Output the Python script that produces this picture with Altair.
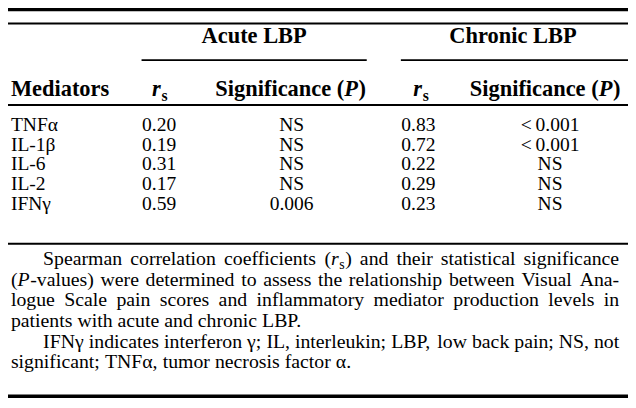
import altair as alt
import pandas as pd

# ---------------- table values ----------------
mediators = ["TNFα", "IL-1β", "IL-6", "IL-2", "IFNγ"]
acute_rs = [0.20, 0.19, 0.31, 0.17, 0.59]
acute_sig = ["NS", "NS", "NS", "NS", "0.006"]
chronic_rs = [0.83, 0.72, 0.22, 0.29, 0.23]
chronic_sig = ["<\u20090.001", "<\u20090.001", "NS", "NS", "NS"]
group_headers = ["Acute LBP", "Chronic LBP"]
stub_header = "Mediators"
rs_header = [("r", "i"), ("s", "sub")]
sig_header = [("Significance (", "n"), ("P", "i"), (")", "n")]
footnote = [
    [("Spearman correlation coefficients (", "n"), ("r", "i"), ("s", "sub"),
     (") and their statistical significance", "n")],
    [("(", "n"), ("P", "i"),
     ("-values) were determined to assess the relationship between Visual Ana-", "n")],
    [("logue Scale pain scores and inflammatory mediator production levels in", "n")],
    [("patients with acute and chronic LBP.", "n")],
    [("IFNγ indicates interferon γ; IL, interleukin; LBP, low back pain; NS, not", "n")],
    [("significant; TNFα, tumor necrosis factor α.", "n")],
]
footnote_justify = [True, True, True, False, True, False]
footnote_indent = [True, False, False, False, True, False]

# ---------------- layout (reference pixel frame 636 x 408) ----------------
W_REF, H_REF = 636, 408
PLOT_W, PLOT_H = 620, 392
K = PLOT_W / W_REF  # font scale so that text keeps its share of the width
FONT = "Liberation Serif, Times New Roman, Times, DejaVu Serif, serif"

REG = {" ": .25, "!": .333, "(": .333, ")": .333, ",": .25, "-": .333, ".": .25,
       ";": .278, ":": .278, "<": .564, "α": .53, "β": .5, "γ": .45}
for d in "0123456789":
    REG[d] = .5
REG.update(dict(zip("ABCDEFGHIJKLMNOPQRSTUVWXYZ",
                    [.722, .667, .667, .722, .611, .556, .722, .722, .333, .389, .722, .611, .889,
                     .722, .722, .556, .722, .667, .556, .611, .722, .722, .944, .722, .722, .611])))
REG.update(dict(zip("abcdefghijklmnopqrstuvwxyz",
                    [.444, .5, .444, .5, .444, .333, .5, .5, .278, .278, .5, .278, .778,
                     .5, .5, .5, .5, .333, .389, .278, .5, .5, .722, .5, .5, .444])))
BOLD = dict(REG)
BOLD.update({"A": .722, "B": .667, "C": .722, "L": .667, "M": .944, "P": .611, "S": .556,
             "a": .5, "b": .556, "c": .444, "d": .556, "e": .444, "f": .333, "g": .5,
             "h": .556, "i": .278, "n": .556, "o": .5, "r": .444, "s": .389, "t": .333,
             "u": .556, "l": .278, "m": .833})
ITAL = {"P": .611, "r": .389, "s": .389}
BITAL = {"P": .611, "r": .389, "s": .389}


def width(text, fs, bold, italic):
    tot = 0.0
    for ch in text:
        if italic:
            tab = BITAL if bold else ITAL
            tot += tab.get(ch, (BOLD if bold else REG).get(ch, .5))
        else:
            tot += (BOLD if bold else REG).get(ch, .5)
    return tot * fs


def run_w(text, st, fs, bold):
    if st == "sub":
        return width(text, fs * 0.7, bold, False) + 0.6
    return width(text, fs, bold, st == "i") + (0.6 if st == "i" else 0)


def place(runs, x, y, fs, bold, rows):
    for text, st in runs:
        f = fs * 0.7 if st == "sub" else fs
        yy = y + 0.22 * fs if st == "sub" else y
        rows.append(dict(x=x, y=yy, text=text, fs=f * K,
                         weight="bold" if bold else "normal",
                         style="italic" if st == "i" else "normal", align="left"))
        x += run_w(text, st, fs, bold)
    return x


def runs_width(runs, fs, bold):
    return sum(run_w(t, s, fs, bold) for t, s in runs)


rows = []

# group headers
HFS = 23
for label, cx in zip(group_headers, [252.5, 518]):
    rows.append(dict(x=cx, y=36.5, text=label, fs=HFS * K, weight="bold",
                     style="normal", align="center"))

# column headers
HY = 92
rows.append(dict(x=3, y=HY, text=stub_header, fs=HFS * K, weight="bold",
                 style="normal", align="left"))
for cx in [156, 424]:
    w = runs_width(rs_header, HFS, True)
    place(rs_header, cx - w / 2, HY, HFS, True, rows)
for cx in [290, 551]:
    w = runs_width(sig_header, HFS, True)
    place(sig_header, cx - w / 2, HY, HFS, True, rows)

# body
BFS = 20
row_y = [128, 148.5, 169, 189.5, 210]
for i, m in enumerate(mediators):
    y = row_y[i]
    rows.append(dict(x=3, y=y, text=m, fs=BFS * K, weight="normal", style="normal", align="left"))
    for cx, txt in [(155, f"{acute_rs[i]:.2f}"), (291, acute_sig[i]),
                    (421, f"{chronic_rs[i]:.2f}"), (556, chronic_sig[i])]:
        rows.append(dict(x=cx, y=y, text=txt, fs=BFS * K, weight="normal",
                         style="normal", align="center"))

# footnote (justified)
FFS = 20.3
LEFT, RIGHT, INDENT = 3, 627, 33
for li, line in enumerate(footnote):
    y = 267.5 + 21.5 * li
    words = [[]]
    for text, st in line:
        parts = text.split(" ")
        for k, p in enumerate(parts):
            if k > 0:
                words.append([])
            if p:
                words[-1].append((p, st))
    words = [w for w in words if w]
    x0 = LEFT + (INDENT if footnote_indent[li] else 0)
    ws = [runs_width(w, FFS, False) for w in words]
    if footnote_justify[li] and len(words) > 1:
        gap = (RIGHT - x0 - sum(ws)) / (len(words) - 1)
    else:
        gap = 0.25 * FFS
    x = x0
    for w, wd in zip(words, ws):
        place(w, x, y, FFS, False, rows)
        x += wd + gap

text_df = pd.DataFrame(rows)

lines = pd.DataFrame({
    "x1": [0, 0, 137, 403, 0, 0, 0],
    "x2": [636, 636, 368, 636, 636, 636, 636],
    "y": [1.7, 16.2, 54.3, 54.3, 101, 245.5, 404],
    "w": [3.4, 2, 1.6, 1.6, 2, 2, 3.5],
})

XS = alt.Scale(domain=[0, W_REF], nice=False, zero=False)
YS = alt.Scale(domain=[0, H_REF], nice=False, zero=False, reverse=True)

rules = alt.Chart(lines).mark_rule(color="black").encode(
    x=alt.X("x1:Q", scale=XS, axis=None),
    x2="x2:Q",
    y=alt.Y("y:Q", scale=YS, axis=None),
    strokeWidth=alt.StrokeWidth("w:Q", scale=None, legend=None),
)

layers = [rules]
for (weight, style, align), sub in text_df.groupby(["weight", "style", "align"]):
    layers.append(
        alt.Chart(sub.reset_index(drop=True)).mark_text(
            align=align, baseline="alphabetic", font=FONT,
            fontWeight=weight, fontStyle=style, color="black"
        ).encode(
            x=alt.X("x:Q", scale=XS, axis=None),
            y=alt.Y("y:Q", scale=YS, axis=None),
            text="text:N",
            size=alt.Size("fs:Q", scale=None, legend=None),
        )
    )

chart = alt.layer(*layers).properties(
    width=PLOT_W, height=PLOT_H, padding=0, autosize="none", background="white"
).configure_view(stroke=None)

chart.save("out.html", embed_options={"renderer": "svg", "actions": False})
